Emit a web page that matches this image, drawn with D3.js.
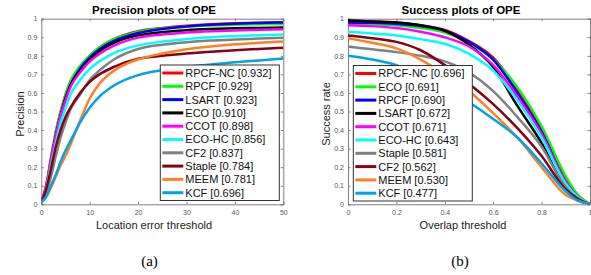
<!DOCTYPE html>
<html>
<head>
<meta charset="utf-8">
<script src="https://cdn.jsdelivr.net/npm/d3@7"></script>
<style>
  body { margin: 0; background: #fff; }
  svg { display: block; font-family: Arial, "Liberation Sans", sans-serif; }
</style>
</head>
<body>
<svg id="chart" width="591" height="275"></svg>
<script>
// precision plot: location error thresholds (px)
var precThresholds = [0, 1, 2, 3, 4, 5, 6, 8, 10, 12, 15, 20, 25, 30, 35, 40, 45, 50];
var precNames  = ["RPCF-NC", "RPCF", "LSART", "ECO", "CCOT", "ECO-HC", "CF2", "Staple", "MEEM", "KCF"];
var precScores = ["0.932", "0.929", "0.923", "0.910", "0.898", "0.856", "0.837", "0.784", "0.781", "0.696"];
var precValues = [
  [0.01, 0.10, 0.25, 0.39, 0.50, 0.59, 0.66, 0.74, 0.80, 0.845, 0.89, 0.932, 0.950, 0.962, 0.970, 0.975, 0.978, 0.980],
  [0.01, 0.10, 0.25, 0.39, 0.50, 0.59, 0.66, 0.745, 0.80, 0.845, 0.89, 0.929, 0.947, 0.957, 0.963, 0.967, 0.970, 0.972],
  [0.01, 0.09, 0.23, 0.37, 0.48, 0.57, 0.64, 0.73, 0.79, 0.835, 0.88, 0.923, 0.945, 0.958, 0.967, 0.973, 0.977, 0.980],
  [0.01, 0.09, 0.23, 0.37, 0.48, 0.57, 0.64, 0.72, 0.78, 0.825, 0.87, 0.910, 0.928, 0.938, 0.944, 0.948, 0.950, 0.952],
  [0.01, 0.10, 0.24, 0.37, 0.48, 0.56, 0.63, 0.71, 0.77, 0.81, 0.855, 0.898, 0.915, 0.925, 0.932, 0.937, 0.940, 0.943],
  [0.01, 0.08, 0.21, 0.33, 0.44, 0.52, 0.59, 0.67, 0.73, 0.77, 0.815, 0.856, 0.877, 0.890, 0.900, 0.906, 0.911, 0.915],
  [0.01, 0.06, 0.15, 0.26, 0.36, 0.44, 0.51, 0.59, 0.67, 0.72, 0.78, 0.837, 0.860, 0.873, 0.882, 0.888, 0.893, 0.897],
  [0.01, 0.08, 0.19, 0.31, 0.40, 0.47, 0.52, 0.60, 0.66, 0.70, 0.74, 0.784, 0.800, 0.812, 0.822, 0.830, 0.837, 0.843],
  [0.01, 0.04, 0.09, 0.15, 0.21, 0.26, 0.32, 0.45, 0.57, 0.65, 0.72, 0.781, 0.812, 0.835, 0.850, 0.862, 0.870, 0.877],
  [0.01, 0.04, 0.10, 0.16, 0.23, 0.29, 0.34, 0.44, 0.52, 0.58, 0.64, 0.696, 0.723, 0.740, 0.753, 0.765, 0.775, 0.785]
];
var precColors = ["#ff0000", "#00ff00", "#0000ff", "#000000", "#ff00ff", "#00ffff", "#808080", "#880015", "#ff7f27", "#00a2e8"];

// success plot: overlap thresholds
var succThresholds = [0, 0.1, 0.2, 0.3, 0.4, 0.5, 0.6, 0.7, 0.8, 0.9, 0.95, 1];
var succNames  = ["RPCF-NC", "ECO", "RPCF", "LSART", "CCOT", "ECO-HC", "Staple", "CF2", "MEEM", "KCF"];
var succScores = ["0.696", "0.691", "0.690", "0.672", "0.671", "0.643", "0.581", "0.562", "0.530", "0.477"];
var succValues = [
  [0.99, 0.985, 0.98, 0.965, 0.94, 0.88, 0.79, 0.62, 0.40, 0.14, 0.05, 0],
  [0.975, 0.97, 0.965, 0.95, 0.925, 0.87, 0.78, 0.63, 0.42, 0.15, 0.05, 0],
  [0.98, 0.978, 0.972, 0.96, 0.935, 0.875, 0.78, 0.60, 0.39, 0.12, 0.04, 0],
  [0.99, 0.985, 0.98, 0.965, 0.935, 0.86, 0.74, 0.53, 0.33, 0.09, 0.03, 0],
  [0.965, 0.96, 0.95, 0.93, 0.90, 0.85, 0.75, 0.58, 0.38, 0.12, 0.04, 0],
  [0.93, 0.92, 0.91, 0.89, 0.865, 0.81, 0.72, 0.56, 0.36, 0.11, 0.04, 0],
  [0.85, 0.835, 0.82, 0.80, 0.77, 0.71, 0.61, 0.47, 0.31, 0.09, 0.03, 0],
  [0.91, 0.895, 0.875, 0.83, 0.75, 0.65, 0.54, 0.41, 0.26, 0.08, 0.03, 0],
  [0.895, 0.87, 0.84, 0.78, 0.70, 0.61, 0.49, 0.36, 0.20, 0.05, 0.02, 0],
  [0.80, 0.78, 0.75, 0.70, 0.63, 0.55, 0.46, 0.36, 0.22, 0.07, 0.02, 0]
];
var succColors = ["#ff0000", "#00ff00", "#0000ff", "#000000", "#ff00ff", "#00ffff", "#808080", "#880015", "#ff7f27", "#00a2e8"];

var yTicks = [0, 0.1, 0.2, 0.3, 0.4, 0.5, 0.6, 0.7, 0.8, 0.9, 1];

var svg = d3.select("#chart");

function drawPanel(opt) {
    var x = d3.scaleLinear().domain(opt.xDomain).range([opt.left, opt.right]);
    var y = d3.scaleLinear().domain([0, 1]).range([204.3, 18.7]);
    var g = svg.append("g");

    g.append("clipPath").attr("id", opt.id + "-clip")
        .append("rect")
        .attr("x", opt.left).attr("y", y(1))
        .attr("width", opt.right - opt.left).attr("height", y(0) - y(1));

    // axes, ticks inward on all four sides
    var axes = [
        d3.axisBottom(x).tickValues(opt.xTicks).tickSize(-2.5).tickFormat(d3.format("")),
        d3.axisTop(x).tickValues(opt.xTicks).tickSize(-2.5).tickFormat(""),
        d3.axisLeft(y).tickValues(yTicks).tickSize(-2.5).tickFormat(d3.format("")),
        d3.axisRight(y).tickValues(yTicks).tickSize(-2.5).tickFormat("")
    ];
    var trans = ["translate(0," + y(0) + ")", "translate(0," + y(1) + ")",
                 "translate(" + opt.left + ",0)", "translate(" + opt.right + ",0)"];
    axes.forEach(function(a, i) {
        var ag = g.append("g").attr("transform", trans[i]).call(a);
        ag.select(".domain").attr("stroke", "#808080");
        ag.selectAll(".tick line").attr("stroke", "#808080");
        ag.selectAll(".tick text").attr("fill", "#555").style("font-size", "7px");
        if (i == 0) ag.selectAll(".tick text").attr("dy", "0.9em").attr("y", 4);
        if (i == 2) ag.selectAll(".tick text").attr("x", -4);
    });

    var line = d3.line()
        .x(function(d) { return x(d[0]); })
        .y(function(d) { return y(d[1]); })
        .curve(d3.curveMonotoneX);

    var curves = g.append("g").attr("clip-path", "url(#" + opt.id + "-clip)");
    opt.values.forEach(function(vals, i) {
        curves.append("path")
            .datum(opt.thresholds.map(function(t, j) { return [t, vals[j]]; }))
            .attr("fill", "none")
            .attr("stroke", opt.colors[i])
            .attr("stroke-width", 2.5)
            .attr("d", line);
    });

    // title and labels
    g.append("text").attr("x", opt.titleX).attr("y", 14)
        .attr("text-anchor", "middle").style("font-size", "11.5px").style("font-weight", "bold")
        .text(opt.title);
    g.append("text").attr("x", opt.xLabelX).attr("y", 229)
        .attr("text-anchor", "middle").style("font-size", "11px").attr("fill", "#222")
        .text(opt.xLabel);
    g.append("text")
        .attr("transform", "translate(" + opt.yLabelX + ",114) rotate(-90)")
        .attr("text-anchor", "middle").style("font-size", "11px").attr("fill", "#222")
        .text(opt.yLabel);
    g.append("text").attr("x", opt.captionX).attr("y", 266)
        .attr("text-anchor", "middle")
        .style("font-family", "'Times New Roman', 'Liberation Serif', Times, serif").style("font-size", "15px")
        .text(opt.caption);

    // legend
    var lg = g.append("g");
    lg.append("rect")
        .attr("x", opt.legX).attr("y", opt.legY)
        .attr("width", 119).attr("height", 135.5)
        .attr("fill", "#fff").attr("stroke", "#333").attr("stroke-width", 1);
    opt.names.forEach(function(n, i) {
        var ry = opt.legY + 8 + i * 13.3;
        lg.append("line")
            .attr("x1", opt.legX + 2).attr("x2", opt.legX + 23)
            .attr("y1", ry).attr("y2", ry)
            .attr("stroke", opt.colors[i]).attr("stroke-width", 3);
        lg.append("text")
            .attr("x", opt.legX + 25).attr("y", ry).attr("dy", "0.36em")
            .style("font-size", "11px").attr("fill", "#111")
            .text(n + " [" + opt.scores[i] + "]");
    });
}

drawPanel({
    id: "prec", left: 41.3, right: 283.3, xDomain: [0, 50], xTicks: [0, 10, 20, 30, 40, 50],
    thresholds: precThresholds, values: precValues, colors: precColors,
    names: precNames, scores: precScores,
    title: "Precision plots of OPE", titleX: 154,
    xLabel: "Location error threshold", xLabelX: 154,
    yLabel: "Precision", yLabelX: 24,
    caption: "(a)", captionX: 149.5,
    legX: 160.3, legY: 65
});

drawPanel({
    id: "succ", left: 348, right: 590, xDomain: [0, 1], xTicks: [0, 0.2, 0.4, 0.6, 0.8, 1],
    thresholds: succThresholds, values: succValues, colors: succColors,
    names: succNames, scores: succScores,
    title: "Success plots of OPE", titleX: 461,
    xLabel: "Overlap threshold", xLabelX: 463,
    yLabel: "Success rate", yLabelX: 330,
    caption: "(b)", captionX: 460,
    legX: 353.3, legY: 65.5
});
</script>
</body>
</html>
